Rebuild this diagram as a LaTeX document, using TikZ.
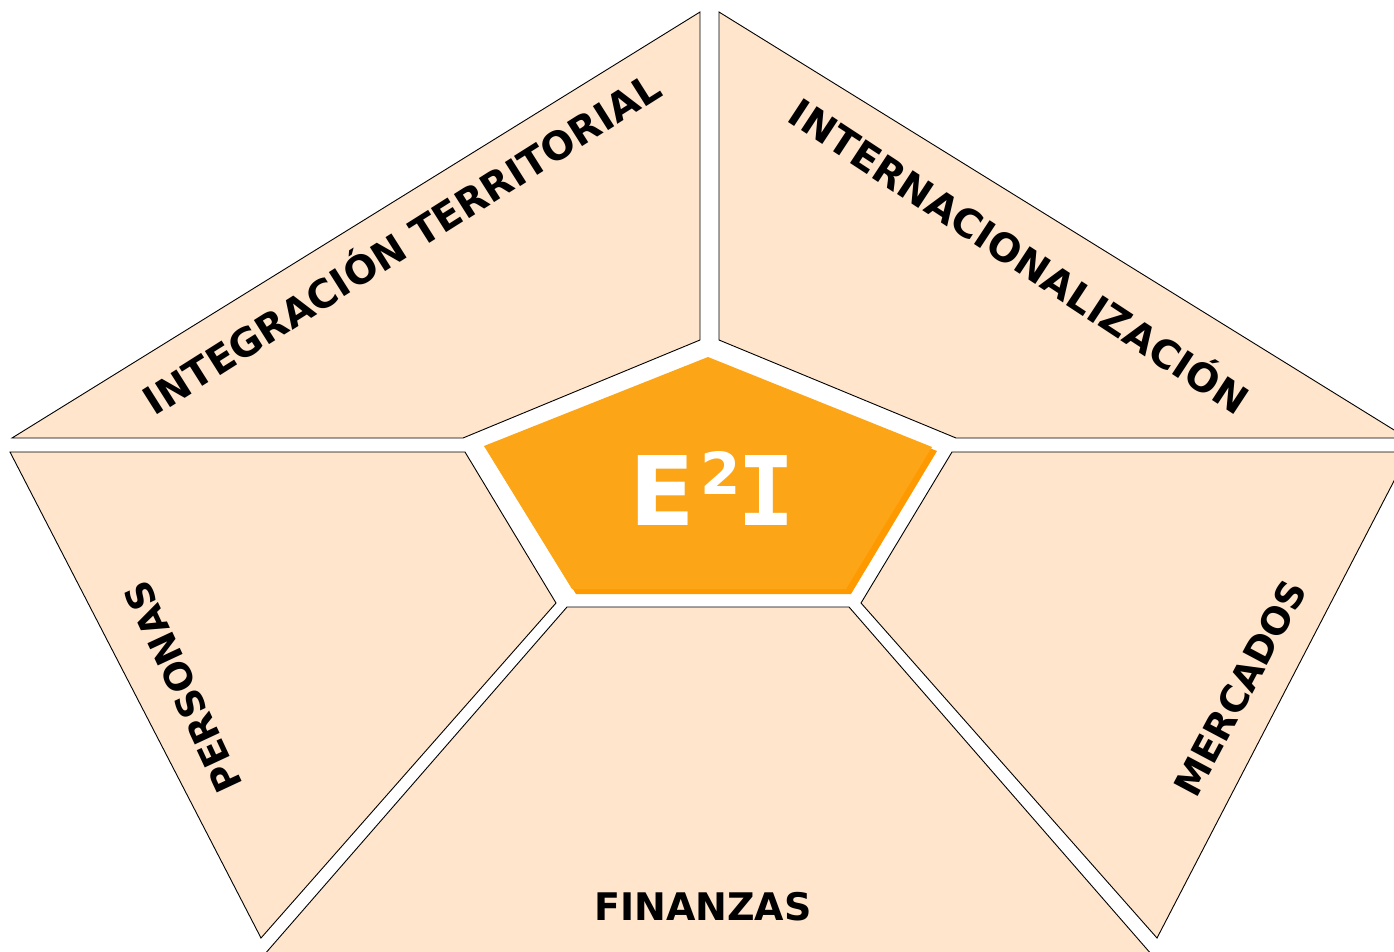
\documentclass[tikz,border=0pt]{standalone}
\usepackage{fontspec}
\setmainfont{DejaVu Sans}
\newfontfamily\monoI{DejaVu Sans Mono}
\definecolor{peach}{RGB}{254,229,204}
\definecolor{orangemain}{RGB}{252,165,22}
\definecolor{orangeshadow}{RGB}{255,153,0}
\begin{document}
\begin{tikzpicture}[x=1pt,y=-1pt,
  panel/.style={fill=peach,draw=black,line width=0.9pt,line join=miter},
  lbl/.style={font=\fontsize{39}{39}\selectfont\bfseries,inner sep=0pt,anchor=center},
  lblsm/.style={lbl,font=\fontsize{37.5}{37.5}\selectfont\bfseries}]
\path[use as bounding box] (0,0) rectangle (1394,951);
\clip (0,0) rectangle (1394,951);
% panels
\draw[panel] (12,438) -- (700,12) -- (700,340) -- (463,438) -- cycle;
\draw[panel] (719,12) -- (1407,438) -- (956,438) -- (719,340) -- cycle;
\draw[panel] (10,452) -- (465,452) -- (556,603) -- (261,938) -- cycle;
\draw[panel] (952,452) -- (1409,452) -- (1157,938) -- (861,603) -- cycle;
\draw[panel] (567,607) -- (849,607) -- (1152,955) -- (264,955) -- cycle;
% centre pentagon
\fill[orangeshadow] (712,362) -- (937,451) -- (851,594) -- (576,594) -- (488,451) -- cycle;
\fill[orangemain] (708,357) -- (932,447) -- (846,589) -- (572,589) -- (484,446) -- cycle;
\node[inner sep=0pt,text=white,font=\fontsize{96}{96}\selectfont\bfseries] (e2i) at (712,488)
  {E\hspace{6pt}\raisebox{31pt}{\fontsize{58}{58}\selectfont 2}\hspace{-4pt}{\monoI\bfseries I}};
% labels
\node[lbl,rotate=32.3] (it) at (400,241) {INTEGRACIÓN TERRITORIAL};
\node[lbl,rotate=-33.3] (in) at (1021,254) {INTERNACIONALIZACIÓN};
\node[lblsm,rotate=115] (pe) at (183,687) {PERSONAS};
\node[lblsm,rotate=62] (me) at (1240,688) {MERCADOS};
\node[lbl,font=\fontsize{38}{38}\selectfont\bfseries] (fi) at (703,907) {FINANZAS};
\end{tikzpicture}
\end{document}
